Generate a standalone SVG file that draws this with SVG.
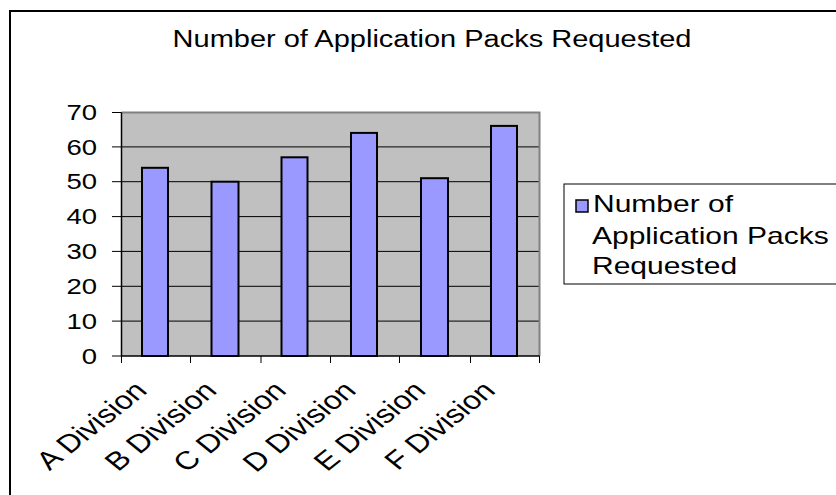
<svg xmlns="http://www.w3.org/2000/svg" width="836" height="495" viewBox="0 0 836 495">
<style>
text{font-family:"Liberation Sans",Arial,sans-serif;fill:#000}
.t{font-size:23.2px}
.l{font-size:24px}
.y{font-size:22px;text-anchor:end}
.x{font-size:25.5px;text-anchor:end}
.grid{stroke:#000;stroke-width:1}
.bar{fill:#9999FF;stroke:#000;stroke-width:2}
.tick{stroke:#000;stroke-width:1}
</style>
<rect width="836" height="495" fill="#fff"/>
<g id="frame"><rect x="10" y="11" width="900" height="600" fill="none" stroke="#000" stroke-width="2"/></g>
<g id="title"><text class="t" text-anchor="middle" transform="translate(432,47) scale(1.25,1)">Number of Application Packs Requested</text></g>
<g id="plot">
<rect x="121.5" y="112.5" width="418" height="243.5" fill="#C0C0C0"/>
<path class="grid" d="M121.5 146.9H539.5M121.5 181.7H539.5M121.5 216.6H539.5M121.5 251.4H539.5M121.5 286.3H539.5M121.5 321.1H539.5"/>
<path d="M121.5 112.5H539.5V356" fill="none" stroke="#808080" stroke-width="2"/>
</g>
<g id="bars">
<rect class="bar" x="142" y="167.8" width="26" height="188.2"/>
<rect class="bar" x="211.5" y="181.7" width="27" height="174.3"/>
<rect class="bar" x="281.5" y="157.3" width="26" height="198.7"/>
<rect class="bar" x="351" y="132.9" width="26" height="223.1"/>
<rect class="bar" x="421" y="178.2" width="27" height="177.8"/>
<rect class="bar" x="491" y="125.9" width="26" height="230.1"/>
</g>
<g id="axes">
<path d="M121.5 112.5V356H539.5" fill="none" stroke="#000" stroke-width="1.5"/>
<path class="tick" d="M112 112.5H121.5M112 146.9H121.5M112 181.7H121.5M112 216.6H121.5M112 251.4H121.5M112 286.3H121.5M112 321.1H121.5M112 356H121.5"/>
<path class="tick" d="M121.5 356V363M190.5 356V363M261 356V363M330.5 356V363M399.5 356V363M470.5 356V363M539.5 356V363"/>
</g>
<g id="y-labels">
<text class="y" transform="translate(97,120) scale(1.25,1)">70</text>
<text class="y" transform="translate(97,154.5) scale(1.25,1)">60</text>
<text class="y" transform="translate(97,189.3) scale(1.25,1)">50</text>
<text class="y" transform="translate(97,224.2) scale(1.25,1)">40</text>
<text class="y" transform="translate(97,259) scale(1.25,1)">30</text>
<text class="y" transform="translate(97,293.9) scale(1.25,1)">20</text>
<text class="y" transform="translate(97,328.7) scale(1.25,1)">10</text>
<text class="y" transform="translate(97,363.6) scale(1.25,1)">0</text>
</g>
<g id="x-labels">
<text class="x" transform="translate(148.5,392) scale(1.25,1) rotate(-45)">A Division</text>
<text class="x" transform="translate(218.2,392) scale(1.25,1) rotate(-45)">B Division</text>
<text class="x" transform="translate(287.8,392) scale(1.25,1) rotate(-45)">C Division</text>
<text class="x" transform="translate(357.5,392) scale(1.25,1) rotate(-45)">D Division</text>
<text class="x" transform="translate(427.2,392) scale(1.25,1) rotate(-45)">E Division</text>
<text class="x" transform="translate(496.8,392) scale(1.25,1) rotate(-45)">F Division</text>
</g>
<g id="legend">
<rect x="564" y="184" width="300" height="100" fill="#fff" stroke="#000" stroke-width="1"/>
<rect x="576" y="200" width="12" height="12" fill="#9999FF" stroke="#000" stroke-width="1.5"/>
<text class="l" transform="translate(593,212) scale(1.25,1)">Number of</text>
<text class="l" transform="translate(592,244) scale(1.25,1)">Application Packs</text>
<text class="l" transform="translate(592,274) scale(1.25,1)">Requested</text>
</g>
</svg>
